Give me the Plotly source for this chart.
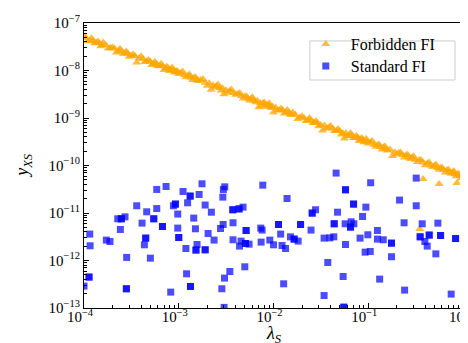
import plotly.graph_objects as go

# ---------------- data ----------------
# Forbidden FI: dense band of points (edge points + center points) and a few outliers
forbidden_x_edge = [
    1.0e-4, 1.1e-4, 1.2e-4, 1.3e-4, 1.4e-4, 1.5e-4, 1.6e-4, 1.8e-4, 2.0e-4, 2.2e-4,
    2.4e-4, 2.6e-4, 2.8e-4, 3.0e-4, 3.3e-4, 3.6e-4, 4.0e-4, 4.4e-4, 4.8e-4, 5.2e-4,
    5.6e-4, 6.0e-4, 6.5e-4, 7.0e-4, 7.5e-4, 8.0e-4, 8.5e-4, 9.0e-4, 9.5e-4,
    1.0e-3, 1.1e-3, 1.2e-3, 1.3e-3, 1.4e-3, 1.5e-3, 1.6e-3, 1.8e-3, 2.0e-3, 2.2e-3,
    2.4e-3, 2.6e-3, 2.8e-3, 3.0e-3, 3.3e-3, 3.6e-3, 4.0e-3, 4.4e-3, 4.8e-3, 5.2e-3,
    5.6e-3, 6.0e-3, 6.5e-3, 7.0e-3, 7.5e-3, 8.0e-3, 8.5e-3, 9.0e-3, 9.5e-3,
    1.0e-2, 1.1e-2, 1.2e-2, 1.3e-2, 1.4e-2, 1.5e-2, 1.6e-2, 1.8e-2, 2.0e-2, 2.2e-2,
    2.4e-2, 2.6e-2, 2.8e-2, 3.0e-2, 3.3e-2, 3.6e-2, 4.0e-2, 4.4e-2, 4.8e-2, 5.2e-2,
    5.6e-2, 6.0e-2, 6.5e-2, 7.0e-2, 7.5e-2, 8.0e-2, 8.5e-2, 9.0e-2, 9.5e-2,
    0.10, 0.11, 0.12, 0.13, 0.14, 0.15, 0.16, 0.18, 0.20, 0.22,
    0.24, 0.26, 0.28, 0.30, 0.33, 0.36, 0.40, 0.44, 0.48, 0.52,
    0.56, 0.60, 0.65, 0.70, 0.75, 0.80, 0.85, 0.90, 0.95, 1.0,
]
forbidden_y_edge = [
    5.35e-8, 4.15e-8, 4.79e-8, 3.76e-8, 4.08e-8, 3.23e-8, 3.88e-8, 2.89e-8, 3.08e-8, 2.39e-8,
    2.88e-8, 2.26e-8, 2.52e-8, 1.95e-8, 2.18e-8, 1.48e-8, 1.99e-8, 1.51e-8, 1.66e-8, 1.30e-8,
    1.52e-8, 1.23e-8, 1.39e-8, 1.02e-8, 1.20e-8, 9.73e-9, 1.15e-8, 9.12e-9, 9.84e-9,
    8.45e-9, 9.48e-9, 7.23e-9, 8.20e-9, 6.31e-9, 7.21e-9, 6.00e-9, 6.61e-9, 4.75e-9, 3.95e-9,
    4.46e-9, 5.06e-9, 3.80e-9, 3.15e-9, 3.45e-9, 3.98e-9, 3.07e-9, 3.37e-9, 2.56e-9, 2.84e-9,
    2.34e-9, 2.74e-9, 2.15e-9, 1.69e-9, 1.81e-9, 2.12e-9, 1.73e-9, 2.04e-9, 1.63e-9,
    1.31e-9, 1.43e-9, 1.58e-9, 1.24e-9, 1.48e-9, 1.17e-9, 1.31e-9, 9.53e-10, 1.09e-9, 8.63e-10,
    9.95e-10, 7.82e-10, 8.69e-10, 6.71e-10, 5.46e-10, 6.01e-10, 6.85e-10, 5.32e-10, 5.86e-10, 4.50e-10,
    3.71e-10, 4.14e-10, 4.81e-10, 3.78e-10, 4.23e-10, 3.28e-10, 3.78e-10, 3.08e-10, 3.64e-10,
    2.92e-10, 3.27e-10, 2.49e-10, 2.77e-10, 2.18e-10, 2.55e-10, 2.07e-10, 1.58e-10, 1.72e-10, 1.88e-10,
    1.47e-10, 1.71e-10, 1.37e-10, 1.57e-10, 1.19e-10, 1.31e-10, 1.01e-10, 1.16e-10, 9.27e-11, 1.05e-10,
    8.09e-11, 9.04e-11, 7.10e-11, 8.26e-11, 6.68e-11, 7.67e-11, 5.97e-11, 6.71e-11, 5.37e-11, 6.22e-11,
]
forbidden_x_center = [
    1.05e-4, 1.15e-4, 1.25e-4, 1.35e-4, 1.45e-4, 1.55e-4, 1.7e-4, 1.9e-4, 2.1e-4, 2.3e-4,
    2.5e-4, 2.7e-4, 2.9e-4, 3.15e-4, 3.45e-4, 3.8e-4, 4.2e-4, 4.6e-4, 5.0e-4, 5.4e-4,
    5.8e-4, 6.25e-4, 6.75e-4, 7.25e-4, 7.75e-4, 8.25e-4, 8.75e-4, 9.25e-4, 9.75e-4,
    1.05e-3, 1.15e-3, 1.25e-3, 1.35e-3, 1.45e-3, 1.55e-3, 1.7e-3, 1.9e-3, 2.1e-3, 2.3e-3,
    2.5e-3, 2.7e-3, 2.9e-3, 3.15e-3, 3.45e-3, 3.8e-3, 4.2e-3, 4.6e-3, 5.0e-3, 5.4e-3,
    5.8e-3, 6.25e-3, 6.75e-3, 7.25e-3, 7.75e-3, 8.25e-3, 8.75e-3, 9.25e-3, 9.75e-3,
    1.05e-2, 1.15e-2, 1.25e-2, 1.35e-2, 1.45e-2, 1.55e-2, 1.7e-2, 1.9e-2, 2.1e-2, 2.3e-2,
    2.5e-2, 2.7e-2, 2.9e-2, 3.15e-2, 3.45e-2, 3.8e-2, 4.2e-2, 4.6e-2, 5.0e-2, 5.4e-2,
    5.8e-2, 6.25e-2, 6.75e-2, 7.25e-2, 7.75e-2, 8.25e-2, 8.75e-2, 9.25e-2, 9.75e-2,
    0.105, 0.115, 0.125, 0.135, 0.145, 0.155, 0.17, 0.19, 0.21, 0.23,
    0.25, 0.27, 0.29, 0.315, 0.345, 0.38, 0.42, 0.46, 0.50, 0.54,
    0.58, 0.625, 0.675, 0.725, 0.775, 0.825, 0.875, 0.925, 0.975,
]
forbidden_y_center = [
    4.81e-8, 4.30e-8, 4.24e-8, 3.83e-8, 3.80e-8, 3.46e-8, 3.39e-8, 2.98e-8, 2.90e-8, 2.59e-8,
    2.55e-8, 2.30e-8, 2.29e-8, 2.06e-8, 2.02e-8, 1.80e-8, 1.75e-8, 1.56e-8, 1.54e-8, 1.39e-8,
    1.38e-8, 1.25e-8, 1.24e-8, 1.12e-8, 1.12e-8, 1.02e-8, 1.02e-8, 9.37e-9, 9.44e-9,
    8.94e-9, 7.99e-9, 7.88e-9, 7.12e-9, 7.06e-9, 6.43e-9, 6.30e-9, 5.54e-9, 5.39e-9, 4.81e-9,
    4.74e-9, 4.27e-9, 4.25e-9, 3.83e-9, 3.75e-9, 3.34e-9, 3.25e-9, 2.90e-9, 2.86e-9, 2.58e-9,
    2.56e-9, 2.32e-9, 2.30e-9, 2.08e-9, 2.08e-9, 1.90e-9, 1.90e-9, 1.74e-9, 1.75e-9,
    1.66e-9, 1.48e-9, 1.46e-9, 1.32e-9, 1.31e-9, 1.19e-9, 1.17e-9, 1.03e-9, 1.00e-9, 8.94e-10,
    8.81e-10, 7.93e-10, 7.90e-10, 7.12e-10, 6.97e-10, 6.21e-10, 6.04e-10, 5.39e-10, 5.31e-10, 4.79e-10,
    4.76e-10, 4.31e-10, 4.27e-10, 3.86e-10, 3.86e-10, 3.53e-10, 3.53e-10, 3.23e-10, 3.25e-10,
    3.08e-10, 2.75e-10, 2.71e-10, 2.45e-10, 2.43e-10, 2.21e-10, 2.17e-10, 1.91e-10, 1.86e-10, 1.66e-10,
    1.64e-10, 1.47e-10, 1.47e-10, 1.32e-10, 1.30e-10, 1.15e-10, 1.12e-10, 1.00e-10, 9.87e-11, 8.90e-11,
    8.84e-11, 8.01e-11, 7.93e-11, 7.17e-11, 7.17e-11, 6.56e-11, 6.56e-11, 6.00e-11, 6.04e-11,
]
forbidden_x_outlier = [0.378, 0.56, 0.865, 0.35]
forbidden_y_outlier = [5.2e-11, 4.1e-11, 4.3e-11, 4.6e-12]

# Standard FI (points repeated where the reference shows overlapping, darker squares)
standard_x = [
    5.86e-4, 7.35e-4, 3.6e-4, 4.59e-4, 5.86e-4, 8.79e-4, 9.23e-4, 9.23e-4, 9.76e-4,
    2.27e-4, 2.48e-4, 2.48e-4, 2.71e-4, 5.45e-4, 5.45e-4, 4.1e-4, 6.73e-4, 6.73e-4,
    2.42e-4, 9.76e-4, 1.15e-4, 1.72e-4, 1.88e-4, 4.48e-4, 4.48e-4, 4.34e-4,
    1.0e-3, 1.0e-3, 1.16e-4, 2.82e-4, 5.02e-4, 1.13e-4, 1.13e-4, 1.0e-4,
    2.8e-4, 2.8e-4, 8.23e-4,
    1.76e-3, 3.06e-3, 2.96e-3, 7.71e-3, 1.11e-3, 1.32e-3, 1.32e-3, 1.64e-3, 2.92e-3,
    1.24e-3, 1.9e-3, 2.21e-3, 1.44e-3, 3.72e-3, 3.72e-3, 4.33e-3, 4.33e-3, 4.77e-3,
    3.74e-3, 2.94e-3, 2.76e-3, 1.5e-3, 2.04e-3, 5.14e-3, 5.14e-3, 7.34e-3, 7.58e-3,
    2.36e-3, 3.74e-3, 4.55e-3, 5.06e-3, 5.06e-3, 5.52e-3, 4.38e-3, 1.56e-3, 1.19e-3,
    1.52e-3, 1.52e-3, 1.9e-3, 1.9e-3, 7.4e-3, 9.14e-3, 1.0e-2, 4.98e-3, 3.46e-3,
    1.21e-3, 3.04e-3, 1.33e-3, 1.33e-3, 2.85e-3, 3.01e-3,
    4.58e-2, 5.75e-2, 5.75e-2, 1.39e-2, 7.0e-2, 7.0e-2, 9.44e-2, 2.78e-2, 2.56e-2, 2.56e-2,
    4.74e-2, 8.71e-2, 1.13e-2, 1.13e-2, 1.93e-2, 1.93e-2, 4.37e-2, 4.37e-2, 5.7e-2,
    6.6e-2, 7.05e-2, 6.5e-2, 6.5e-2, 2.49e-2, 1.19e-2, 1.51e-2, 1.65e-2, 1.65e-2,
    1.82e-2, 1.23e-2, 1.34e-2, 3.42e-2, 3.93e-2, 4.33e-2, 5.75e-2, 8.2e-2, 9.9e-2,
    9.27e-2, 3.74e-2, 5.43e-2, 1.28e-2, 3.42e-2, 5.52e-2, 5.52e-2,
    0.106, 0.321, 0.214, 0.321, 0.239, 0.371, 0.543, 0.125, 0.125, 0.144,
    0.176, 0.176, 0.353, 0.353, 0.44, 0.44, 0.58, 0.58, 0.835, 0.835,
    0.396, 0.419, 0.517, 0.105, 0.176, 0.132, 0.242, 0.75,
]
standard_y = [
    3.13e-11, 3.61e-11, 1.42e-11, 1.06e-11, 1.24e-11, 1.42e-11, 1.54e-11, 1.54e-11, 9.5e-12,
    7.55e-12, 7.55e-12, 7.55e-12, 8.3e-12, 7.55e-12, 7.55e-12, 6.12e-12, 5.2e-12, 5.2e-12,
    4.5e-12, 4.81e-12, 3.6e-12, 2.69e-12, 2.51e-12, 2.96e-12, 2.96e-12, 2.14e-12,
    3.05e-12, 3.05e-12, 2.04e-12, 1.16e-12, 1.12e-12, 4.48e-13, 4.48e-13, 2.89e-13,
    2.54e-13, 2.54e-13, 2.16e-13,
    4.12e-11, 3.56e-11, 3.13e-11, 3.86e-11, 2.84e-11, 2.27e-11, 2.27e-11, 2.45e-11, 2.16e-11,
    1.64e-11, 1.47e-11, 1.04e-11, 7.81e-12, 1.17e-11, 1.17e-11, 1.22e-11, 1.22e-11, 1.33e-11,
    6.22e-12, 5.73e-12, 4.72e-12, 4.65e-12, 3.7e-12, 4.28e-12, 4.28e-12, 4.81e-12, 4.37e-12,
    2.69e-12, 2.73e-12, 2.56e-12, 2.28e-12, 2.28e-12, 2.21e-12, 2.01e-12, 2.17e-12, 1.79e-12,
    1.66e-12, 1.66e-12, 1.68e-12, 1.68e-12, 2.44e-12, 2.69e-12, 2.14e-12, 7.37e-13, 5.86e-13,
    5.25e-13, 4.26e-13, 2.84e-13, 2.84e-13, 2.54e-13, 1.03e-13,
    6.92e-11, 3.08e-11, 3.08e-11, 2.02e-11, 1.54e-11, 1.54e-11, 1.33e-11, 1.17e-11, 9.95e-12, 9.95e-12,
    1.04e-11, 8.44e-12, 5.73e-12, 5.73e-12, 5.73e-12, 5.73e-12, 5.93e-12, 5.93e-12, 5.93e-12,
    6.53e-12, 5.93e-12, 5.05e-12, 5.05e-12, 4.37e-12, 3.6e-12, 3.15e-12, 2.82e-12, 2.82e-12,
    2.56e-12, 2.07e-12, 1.79e-12, 2.96e-12, 3.0e-12, 3.15e-12, 2.17e-12, 2.96e-12, 3.48e-12,
    1.5e-12, 9.08e-13, 4.6e-13, 3.23e-13, 1.83e-13, 1.04e-13, 1.04e-13,
    4.33e-11, 5.43e-11, 1.87e-11, 1.42e-11, 6.22e-12, 5.93e-12, 6.12e-12, 4.28e-12, 2.82e-12, 2.73e-12,
    2.32e-12, 2.32e-12, 3.15e-12, 3.15e-12, 3.43e-12, 3.43e-12, 3.36e-12, 3.36e-12, 2.9e-12, 2.9e-12,
    2.51e-12, 2.01e-12, 1.38e-12, 1.55e-12, 1.2e-12, 4.06e-13, 2.38e-13, 1.96e-13,
]

x_tickvals = [1e-4, 1e-3, 1e-2, 1e-1, 1e0]
x_ticktext = ["10<sup>−4</sup>", "10<sup>−3</sup>", "10<sup>−2</sup>", "10<sup>−1</sup>", "10<sup>0</sup>"]
y_tickvals = [1e-13, 1e-12, 1e-11, 1e-10, 1e-9, 1e-8, 1e-7]
y_ticktext = ["10<sup>−13</sup>", "10<sup>−12</sup>", "10<sup>−11</sup>", "10<sup>−10</sup>",
              "10<sup>−9</sup>", "10<sup>−8</sup>", "10<sup>−7</sup>"]

x_title = "<i>λ</i><sub><i>S</i></sub>"
y_title = "<i>y</i><sub><i>XS</i></sub>"

# minor tick positions (2..9 in every decade)
x_minor = [m * 10.0 ** e for e in range(-4, 0) for m in range(2, 10)]
y_minor = [m * 10.0 ** e for e in range(-13, -7) for m in range(2, 10)]

forbidden_x = forbidden_x_edge + forbidden_x_center + forbidden_x_outlier
forbidden_y = forbidden_y_edge + forbidden_y_center + forbidden_y_outlier

# ---------------- figure ----------------
SERIF = "Liberation Serif, Times New Roman, serif"
LEG_FONT = dict(family=SERIF, size=16, color="black")

fig = go.Figure()
fig.add_trace(go.Scatter(
    x=forbidden_x, y=forbidden_y, mode="markers", name="Forbidden FI",
    marker=dict(symbol="triangle-up", size=8, color="orange", opacity=0.75,
                line=dict(width=0)),
    legend="legend",
))
fig.add_trace(go.Scatter(
    x=standard_x, y=standard_y, mode="markers", name="Standard FI",
    marker=dict(symbol="square", size=7, color="blue", opacity=0.7,
                line=dict(width=0)),
    legend="legend2",
))

axis_common = dict(
    type="log", showgrid=False, zeroline=False, automargin=False,
    showline=True, linecolor="black", linewidth=1.2, mirror=True,
    ticks="inside", ticklen=5, tickwidth=1, tickcolor="black",
    tickfont=dict(family=SERIF, size=15, color="black"),
)

fig.update_xaxes(
    **axis_common,
    range=[-4, 0], tickvals=x_tickvals, ticktext=x_ticktext,
    ticklabelstandoff=-5, ticklabelshift=-4,
    minor=dict(tickvals=x_minor, ticks="inside", ticklen=2.5, tickwidth=0.8,
               tickcolor="black", showgrid=False),
)
fig.update_yaxes(
    **axis_common,
    range=[-13, -7], tickvals=y_tickvals, ticktext=y_ticktext,
    minor=dict(tickvals=y_minor, ticks="inside", ticklen=2.5, tickwidth=0.8,
               tickcolor="black", showgrid=False),
)

legend_common = dict(
    xanchor="left", yanchor="middle", bgcolor="rgba(0,0,0,0)", borderwidth=0,
    font=LEG_FONT, itemwidth=40,
)

fig.update_layout(
    width=468, height=343,
    margin=dict(l=76, r=13, t=15, b=43),
    paper_bgcolor="white", plot_bgcolor="white",
    showlegend=True,
    legend=dict(x=0.572, y=0.926, **legend_common),
    legend2=dict(x=0.572, y=0.849, **legend_common),
    shapes=[
        dict(type="rect", xref="paper", yref="paper",
             x0=0.596, x1=0.979, y0=0.80, y1=0.937,
             line=dict(color="#cccccc", width=1), fillcolor="rgba(255,255,255,0.8)",
             layer="above"),
    ],
    annotations=[
        dict(text=x_title, xref="paper", yref="paper", x=0.5, y=-0.094,
             xanchor="center", yanchor="middle", showarrow=False,
             font=dict(family=SERIF, size=18, color="black")),
        dict(text=y_title, xref="paper", yref="paper", x=-0.16, y=0.5,
             xanchor="center", yanchor="middle", showarrow=False, textangle=-90,
             font=dict(family=SERIF, size=18, color="black")),
    ],
)

fig.write_html("out.html")
